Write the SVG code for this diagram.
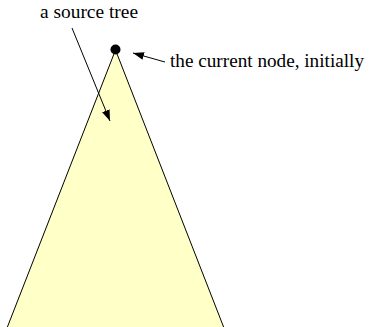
<svg xmlns="http://www.w3.org/2000/svg" width="370" height="327" viewBox="0 0 370 327">
<defs>
<style>
.lbl{font-family:"Liberation Serif","Times New Roman",serif;font-size:19px;fill:#000}
.conn{stroke:#000;stroke-width:1;fill:none}
</style>
<marker id="ah" markerWidth="12" markerHeight="8" refX="11" refY="4" orient="auto" markerUnits="userSpaceOnUse">
<path d="M0,0 L11,4 L0,8 Z" fill="#000"/>
</marker>
</defs>
<rect width="370" height="327" fill="#fff"/>
<g id="tree">
<path d="M115.5,50 L7,328 L224,328 Z" fill="#ffffc8" stroke="#000" stroke-width="1"/>
</g>
<g id="current-node">
<circle cx="115.5" cy="49.5" r="5" fill="#000"/>
</g>
<g id="label-tree">
<text class="lbl" x="40" y="18" textLength="98" lengthAdjust="spacingAndGlyphs">a source tree</text>
</g>
<g id="label-current">
<text class="lbl" x="170" y="67" textLength="194" lengthAdjust="spacingAndGlyphs">the current node, initially</text>
</g>
<g id="connectors">
<line class="conn" x1="72" y1="28" x2="110" y2="121" marker-end="url(#ah)"/>
<line class="conn" x1="165" y1="62" x2="133" y2="53" marker-end="url(#ah)"/>
</g>
</svg>
